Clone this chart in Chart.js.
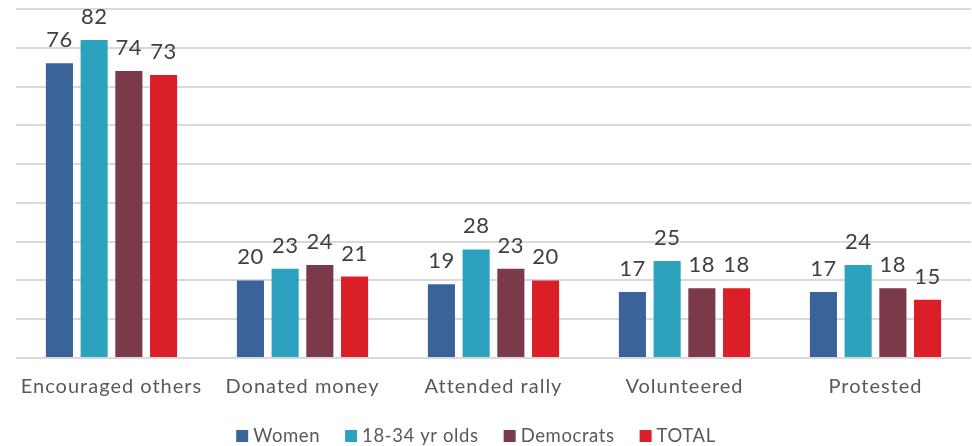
<!DOCTYPE html>
<html>
<head>
<meta charset="utf-8">
<script src="https://cdn.jsdelivr.net/npm/chart.js@4/dist/chart.umd.min.js"></script>
<style>
html,body{margin:0;padding:0;background:#fff;}
canvas{display:block;}
</style>
</head>
<body>
<canvas id="c" width="972" height="446"></canvas>
<script>
const categories = ["Encouraged others", "Donated money", "Attended rally", "Volunteered", "Protested"];
const women = [76, 20, 19, 17, 17];
const young = [82, 23, 28, 25, 24];
const democrats = [74, 24, 23, 18, 18];
const total = [73, 21, 20, 18, 15];
const seriesNames = ["Women", "18-34 yr olds", "Democrats", "TOTAL"];
const seriesColors = ["#3A6399", "#2CA2BE", "#7B3A4A", "#DA1F28"];

const FONT = "Lato, 'DejaVu Sans', sans-serif";
const SPACING = "1px";

const spacingPlugin = {
  id: 'spacing',
  beforeLayout(chart) { chart.ctx.letterSpacing = SPACING; },
  beforeDraw(chart) { chart.ctx.letterSpacing = SPACING; }
};

const labelPlugin = {
  id: 'valueLabels',
  afterDatasetsDraw(chart) {
    const ctx = chart.ctx;
    ctx.save();
    ctx.letterSpacing = "0.5px";
    ctx.font = "22px " + FONT;
    ctx.fillStyle = "#404040";
    ctx.textAlign = "center";
    ctx.textBaseline = "alphabetic";
    chart.data.datasets.forEach((ds, i) => {
      const meta = chart.getDatasetMeta(i);
      meta.data.forEach((el, j) => {
        ctx.fillText(String(ds.data[j]), el.x, el.y - 16);
      });
    });
    ctx.restore();
  }
};

const legendPlugin = {
  id: 'customLegend',
  afterDraw(chart) {
    const ctx = chart.ctx;
    ctx.save();
    ctx.letterSpacing = "0.6px";
    ctx.font = "18.5px " + FONT;
    ctx.textBaseline = "alphabetic";
    ctx.textAlign = "left";
    const box = 12, gap = 5, itemGap = 25;
    const items = chart.data.datasets.map(ds => ({ text: ds.label, color: ds.backgroundColor, w: ctx.measureText(ds.label).width }));
    let totalW = 0;
    items.forEach((it, i) => { totalW += box + gap + it.w + (i < items.length - 1 ? itemGap : 0); });
    let x = chart.width / 2 - 10 - totalW / 2;
    const baseY = 442;
    items.forEach(it => {
      ctx.fillStyle = it.color;
      ctx.fillRect(x, baseY - box, box, box);
      ctx.fillStyle = "#595959";
      ctx.fillText(it.text, x + box + gap, baseY);
      x += box + gap + it.w + itemGap;
    });
    ctx.restore();
  }
};

const dataArrays = [women, young, democrats, total];
new Chart(document.getElementById('c'), {
  type: 'bar',
  data: {
    labels: categories,
    datasets: dataArrays.map((d, i) => ({
      label: seriesNames[i],
      data: d,
      backgroundColor: seriesColors[i],
      borderWidth: 0,
      categoryPercentage: 0.727,
      barPercentage: 0.78
    }))
  },
  options: {
    responsive: false,
    animation: false,
    devicePixelRatio: 1,
    layout: { padding: { left: 16, right: 1, top: 9, bottom: 30 } },
    scales: {
      x: {
        grid: { display: false, drawTicks: false },
        border: { display: false },
        ticks: { color: "#595959", font: { family: FONT, size: 20 }, padding: 17 }
      },
      y: {
        min: 0, max: 90,
        ticks: { display: false, stepSize: 10 },
        grid: { color: "#d9d9d9", lineWidth: 2, drawTicks: false },
        border: { display: false }
      }
    },
    plugins: {
      legend: { display: false },
      tooltip: { enabled: false }
    }
  },
  plugins: [spacingPlugin, labelPlugin, legendPlugin]
});
</script>
</body>
</html>
